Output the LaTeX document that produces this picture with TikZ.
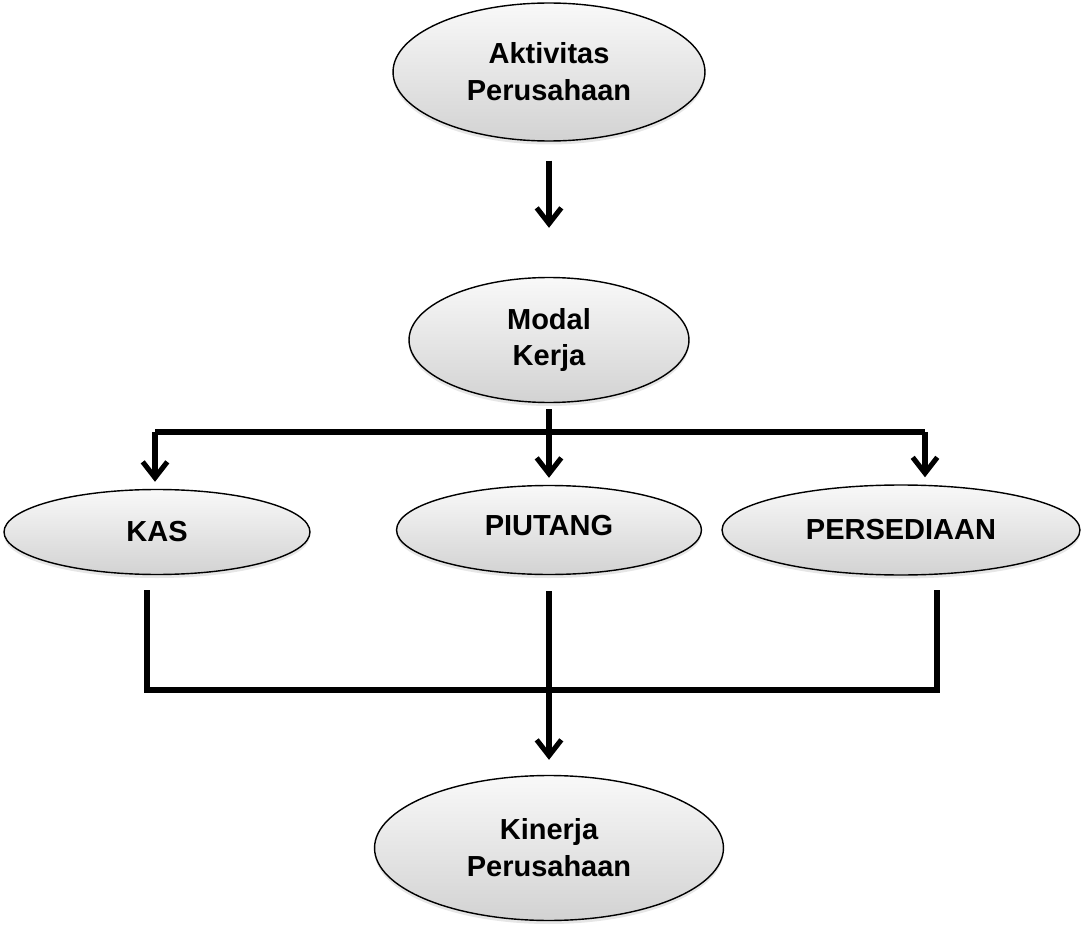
\documentclass[tikz,border=0pt]{standalone}
\usepackage{fontspec}
\setmainfont{Liberation Sans}
\usetikzlibrary{shapes.geometric, arrows.meta, shadows}
\usetikzlibrary{positioning}

\begin{document}
\begin{tikzpicture}[x=0.02cm, y=-0.02cm]
  \tikzstyle{blob} = [ellipse, draw=black, line width=0.8pt, inner sep=0pt,
                      top color=gray!5, bottom color=gray!35,
                      drop shadow={opacity=0.2, shadow xshift=0pt, shadow yshift=-2pt},
                      font=\fontsize{16.5}{21}\selectfont\bfseries, align=center]
  \tikzstyle{line} = [line width=2.9pt]
  \tikzstyle{arr} = [line, -{Straight Barb[length=9pt, width=14pt, line width=2.9pt]}]
  \useasboundingbox (0,0) rectangle (1083,926);
% Ellipses.
  \node[blob, minimum width=6.24cm, minimum height=2.76cm] (aktivitas) at (549,72) {Aktivitas\\Perusahaan};
  \node[blob, minimum width=5.6cm, minimum height=2.5cm] (modal) at (549,340) {Modal\\Kerja};
  \node[blob, minimum width=6.12cm, minimum height=1.7cm] (kas) at (157,532) {KAS};
  \node[blob, minimum width=6.1cm, minimum height=1.78cm] (piutang) at (549,530) {\raisebox{5pt}{PIUTANG}};
  \node[blob, minimum width=7.16cm, minimum height=1.8cm] (persediaan) at (901,530) {PERSEDIAAN};
  \node[blob, minimum width=6.98cm, minimum height=2.9cm] (kinerja) at (549,848) {Kinerja\\Perusahaan};
% Split and join points.
  \coordinate (barL) at (155,432);
  \coordinate (barR) at (925,432);
  \coordinate (kasout) at (147,590);
  \coordinate (persout) at (937,590);
  \coordinate (join) at (549,690);
% Arrows.
  \draw[arr, shorten <=0.38cm, shorten >=0.98cm] (aktivitas) -- (modal);
  \draw[arr, shorten <=0.12cm, shorten >=0.14cm] (modal) -- (piutang);
  \draw[line] (barL) -- (barR);
  \draw[arr, shorten >=0.14cm] (barL) -- (barL |- kas.north);
  \draw[arr, shorten >=0.14cm] (barR) -- (barR |- persediaan.north);
  \draw[line] (kasout) -- (kasout |- join) -- (persout |- join) -- (persout);
  \draw[arr, shorten <=0.32cm, shorten >=0.3cm] (piutang) -- (kinerja);
\end{tikzpicture}
\end{document}
